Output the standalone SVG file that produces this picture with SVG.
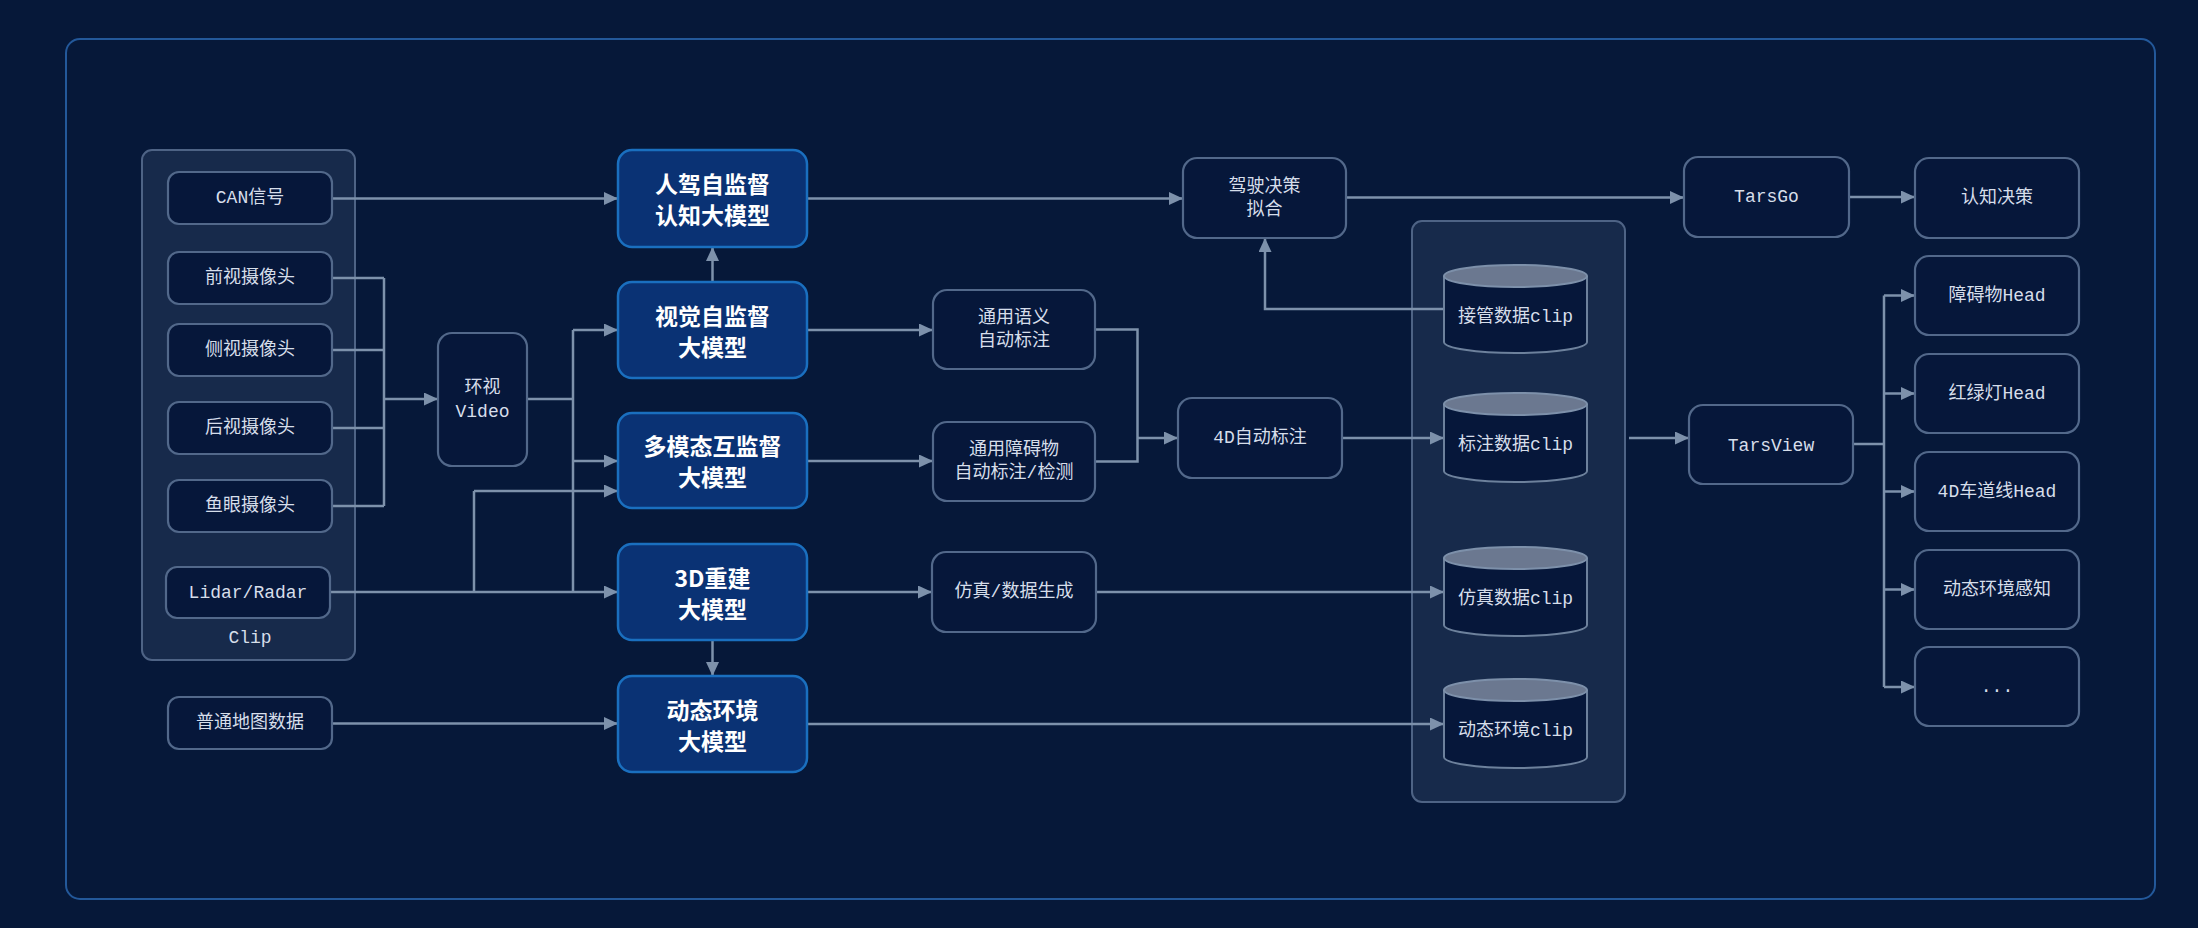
<svg xmlns="http://www.w3.org/2000/svg" width="2198" height="928" viewBox="0 0 2198 928">
<defs>
<marker id="arr" markerUnits="userSpaceOnUse" markerWidth="14" markerHeight="14" refX="14" refY="6.5" orient="auto">
<path d="M0,0 L14,6.5 L0,13 z" fill="#7d91ab"/>
</marker>
<style>
.bg{fill:#061839}
.frame{fill:none;stroke:#23589a;stroke-width:2}
.grp{fill:#172a4b;stroke:#4e6385;stroke-width:2}
.node{fill:#06173a;stroke:#52688a;stroke-width:2.2}
.model{fill:#0a3274;stroke:#1a6fbf;stroke-width:2.5}
.cylb{fill:#06173a;stroke:#6d819c;stroke-width:2}
.cylt{fill:#6b7890;stroke:#7d90aa;stroke-width:2}
.t{font-family:"Liberation Mono","Noto Sans CJK SC",monospace;font-size:18px;fill:#d6deea;text-anchor:middle;dominant-baseline:central}
.mt{font-family:"Noto Sans CJK SC","Liberation Sans",sans-serif;font-size:23px;font-weight:bold;fill:#ffffff;text-anchor:middle;dominant-baseline:central}
.c{fill:none;stroke:#7d91ab;stroke-width:2.5}
.ca{fill:none;stroke:#7d91ab;stroke-width:2.5;marker-end:url(#arr)}
</style>
</defs>
<rect class="bg" x="0" y="0" width="2198" height="928"/>
<rect class="frame" x="66" y="39" width="2089" height="860" rx="14"/>

<g id="clip-group">
<rect class="grp" x="142" y="150" width="213" height="510" rx="10"/>
<text class="t" x="250" y="638">Clip</text>
</g>
<g id="data-group">
<rect class="grp" x="1412" y="221" width="213" height="581" rx="10"/>
</g>

<g id="connectors">
<path class="ca" d="M332,198.5 H618"/>
<path class="c" d="M332,278 H384 M332,350 H384 M332,428 H384 M332,506 H384 M384,278 V506"/>
<path class="ca" d="M384,399 H438"/>
<path class="c" d="M527,399 H573 M573,330 V592"/>
<path class="ca" d="M573,330 H618"/>
<path class="ca" d="M573,461 H618"/>
<path class="ca" d="M330,592 H618"/>
<path class="c" d="M474,592 V491"/>
<path class="ca" d="M474,491 H618"/>
<path class="ca" d="M332,723.5 H618"/>
<path class="ca" d="M712.5,282 V247"/>
<path class="ca" d="M712.5,640 V676"/>
<path class="ca" d="M807,198.5 H1183"/>
<path class="ca" d="M807,330 H933"/>
<path class="ca" d="M807,461 H933"/>
<path class="ca" d="M807,592 H932"/>
<path class="ca" d="M1096,592 H1444"/>
<path class="ca" d="M807,724 H1444"/>
<path class="c" d="M1095,329.5 H1137.5 V461.5 H1095"/>
<path class="ca" d="M1137.5,438 H1178"/>
<path class="ca" d="M1342,438 H1444"/>
<path class="ca" d="M1444,309 H1265 V238"/>
<path class="ca" d="M1629,438 H1689"/>
<path class="ca" d="M1346,197.5 H1684"/>
<path class="ca" d="M1849,197 H1915"/>
<path class="c" d="M1853,444 H1884 M1884,295.5 V687"/>
<path class="ca" d="M1884,295.5 H1915"/>
<path class="ca" d="M1884,393.5 H1915"/>
<path class="ca" d="M1884,491.5 H1915"/>
<path class="ca" d="M1884,589.5 H1915"/>
<path class="ca" d="M1884,687 H1915"/>
</g>

<g id="can"><rect class="node" x="168" y="172" width="164" height="52" rx="11"/><text class="t" x="250" y="198">CAN信号</text></g>
<g id="front-cam"><rect class="node" x="168" y="252" width="164" height="52" rx="11"/><text class="t" x="250" y="278">前视摄像头</text></g>
<g id="side-cam"><rect class="node" x="168" y="324" width="164" height="52" rx="11"/><text class="t" x="250" y="350">侧视摄像头</text></g>
<g id="rear-cam"><rect class="node" x="168" y="402" width="164" height="52" rx="11"/><text class="t" x="250" y="428">后视摄像头</text></g>
<g id="fisheye-cam"><rect class="node" x="168" y="480" width="164" height="52" rx="11"/><text class="t" x="250" y="506">鱼眼摄像头</text></g>
<g id="lidar"><rect class="node" x="166" y="567" width="164" height="51" rx="11"/><text class="t" x="248" y="592.5">Lidar/Radar</text></g>
<g id="map"><rect class="node" x="168" y="697" width="164" height="52" rx="11"/><text class="t" x="250" y="723">普通地图数据</text></g>

<g id="video"><rect class="node" x="438" y="333" width="89" height="133" rx="14"/><text class="t" x="482.5" y="388"><tspan x="482.5">环视</tspan><tspan x="482.5" dy="24">Video</tspan></text></g>

<g id="m-human"><rect class="model" x="618" y="150" width="189" height="97" rx="14"/><text class="mt" x="712.5" y="183"><tspan x="712.5">人驾自监督</tspan><tspan x="712.5" dy="31">认知大模型</tspan></text></g>
<g id="m-vision"><rect class="model" x="618" y="282" width="189" height="96" rx="14"/><text class="mt" x="712.5" y="314.5"><tspan x="712.5">视觉自监督</tspan><tspan x="712.5" dy="31">大模型</tspan></text></g>
<g id="m-multi"><rect class="model" x="618" y="413" width="189" height="95" rx="14"/><text class="mt" x="712.5" y="445"><tspan x="712.5">多模态互监督</tspan><tspan x="712.5" dy="31">大模型</tspan></text></g>
<g id="m-3d"><rect class="model" x="618" y="544" width="189" height="96" rx="14"/><text class="mt" x="712.5" y="576.5"><tspan x="712.5">3D重建</tspan><tspan x="712.5" dy="31">大模型</tspan></text></g>
<g id="m-dyn"><rect class="model" x="618" y="676" width="189" height="96" rx="14"/><text class="mt" x="712.5" y="708.5"><tspan x="712.5">动态环境</tspan><tspan x="712.5" dy="31">大模型</tspan></text></g>

<g id="drive-fit"><rect class="node" x="1183" y="158" width="163" height="80" rx="14"/><text class="t" x="1264.5" y="187"><tspan x="1264.5">驾驶决策</tspan><tspan x="1264.5" dy="23">拟合</tspan></text></g>
<g id="sem-label"><rect class="node" x="933" y="290" width="162" height="79" rx="14"/><text class="t" x="1014" y="318"><tspan x="1014">通用语义</tspan><tspan x="1014" dy="23">自动标注</tspan></text></g>
<g id="obs-label"><rect class="node" x="933" y="422" width="162" height="79" rx="14"/><text class="t" x="1014" y="450"><tspan x="1014">通用障碍物</tspan><tspan x="1014" dy="23">自动标注/检测</tspan></text></g>
<g id="sim-gen"><rect class="node" x="932" y="552" width="164" height="80" rx="14"/><text class="t" x="1014" y="592">仿真/数据生成</text></g>
<g id="label-4d"><rect class="node" x="1178" y="398" width="164" height="80" rx="14"/><text class="t" x="1260" y="438">4D自动标注</text></g>

<g id="db-takeover"><path class="cylb" d="M1444,276 V342 A71.5,11 0 0 0 1587,342 V276"/><ellipse class="cylt" cx="1515.5" cy="276" rx="71.5" ry="11"/><text class="t" x="1515.5" y="317">接管数据clip</text></g>
<g id="db-label"><path class="cylb" d="M1444,404 V471 A71.5,11 0 0 0 1587,471 V404"/><ellipse class="cylt" cx="1515.5" cy="404" rx="71.5" ry="11"/><text class="t" x="1515.5" y="445">标注数据clip</text></g>
<g id="db-sim"><path class="cylb" d="M1444,558 V625 A71.5,11 0 0 0 1587,625 V558"/><ellipse class="cylt" cx="1515.5" cy="558" rx="71.5" ry="11"/><text class="t" x="1515.5" y="599">仿真数据clip</text></g>
<g id="db-dyn"><path class="cylb" d="M1444,690 V757 A71.5,11 0 0 0 1587,757 V690"/><ellipse class="cylt" cx="1515.5" cy="690" rx="71.5" ry="11"/><text class="t" x="1515.5" y="731">动态环境clip</text></g>

<g id="tarsgo"><rect class="node" x="1684" y="157" width="165" height="80" rx="14"/><text class="t" x="1766.5" y="197">TarsGo</text></g>
<g id="cognition"><rect class="node" x="1915" y="158" width="164" height="80" rx="14"/><text class="t" x="1997" y="198">认知决策</text></g>
<g id="tarsview"><rect class="node" x="1689" y="405" width="164" height="79" rx="14"/><text class="t" x="1771" y="446">TarsView</text></g>
<g id="head-obs"><rect class="node" x="1915" y="256" width="164" height="79" rx="14"/><text class="t" x="1997" y="296">障碍物Head</text></g>
<g id="head-light"><rect class="node" x="1915" y="354" width="164" height="79" rx="14"/><text class="t" x="1997" y="394">红绿灯Head</text></g>
<g id="head-lane"><rect class="node" x="1915" y="452" width="164" height="79" rx="14"/><text class="t" x="1997" y="492">4D车道线Head</text></g>
<g id="dyn-perc"><rect class="node" x="1915" y="550" width="164" height="79" rx="14"/><text class="t" x="1997" y="590">动态环境感知</text></g>
<g id="more"><rect class="node" x="1915" y="647" width="164" height="79" rx="14"/><text class="t" x="1997" y="687">...</text></g>
</svg>
